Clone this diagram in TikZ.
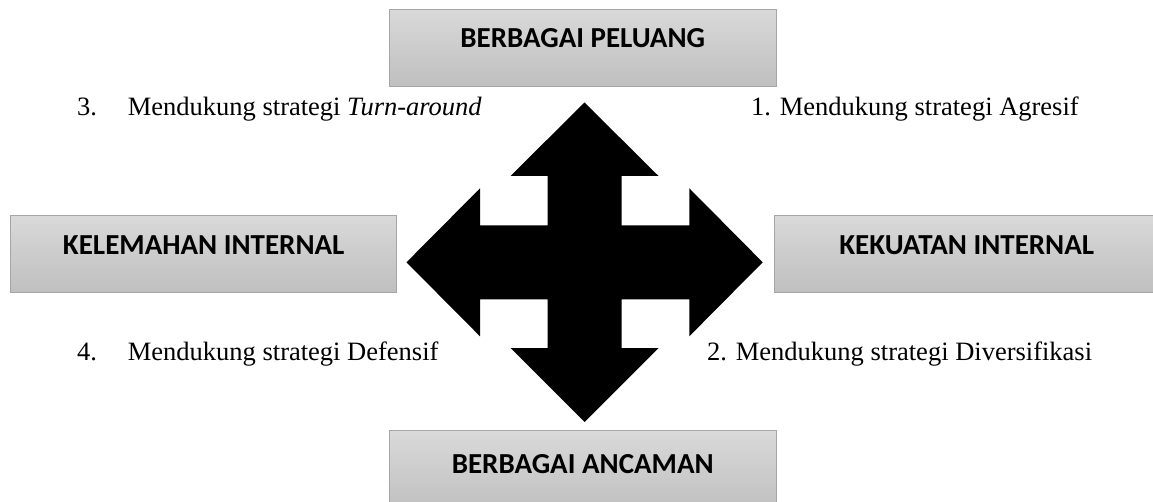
\documentclass[tikz,border=0pt]{standalone}
\usepackage{fontspec}
\setmainfont{Liberation Serif}
\newfontfamily\boxfont{Carlito}
\definecolor{boxtop}{HTML}{D9D9D9}
\definecolor{boxbot}{HTML}{BFBFBF}
\definecolor{boxline}{HTML}{A6A6A6}
\tikzset{
  quadbox/.style={draw=boxline, line width=0.9pt, top color=boxtop, bottom color=boxbot,
    inner sep=0pt, text height=38.4pt, text depth=38.6pt,
    font=\boxfont\bfseries\fontsize{29}{34}\selectfont},
  lbl/.style={anchor=base west, inner sep=0pt, font=\fontsize{26.5}{31}\selectfont},
  bigarrow/.style={fill=black, draw=none}
}
\begin{document}
\begin{tikzpicture}[x=1pt,y=-1pt]
\clip (0,0) rectangle (1153,502);
\fill[white] (0,0) rectangle (1153,502);
% boxes
\node[quadbox, minimum width=386.7pt] (peluang) at (582.7,48) {BERBAGAI PELUANG};
\node[quadbox, minimum width=386pt] (kelemahan) at (203.7,254.3) {KELEMAHAN INTERNAL};
\node[quadbox, minimum width=385.4pt] (kekuatan) at (966.7,254.3) {KEKUATAN INTERNAL};
\node[quadbox, minimum width=386.7pt, text height=43pt, text depth=40pt] (ancaman) at (582.7,472.3) {BERBAGAI ANCAMAN};
% four-way arrow
\fill[bigarrow]
  (584.5,102.5) -- (658.5,176) -- (621.5,176) -- (621.5,225.3) -- (689.3,225.3)
  -- (689.3,188.3) -- (762.7,262.3) -- (689.3,336.3) -- (689.3,299.3)
  -- (621.5,299.3) -- (621.5,348) -- (658.5,348) -- (584.5,422)
  -- (510.5,348) -- (547.5,348) -- (547.5,299.3) -- (480,299.3)
  -- (480,336.3) -- (406.5,262.3) -- (480,188.3) -- (480,225.3)
  -- (547.5,225.3) -- (547.5,176) -- (510.5,176) -- cycle;
% labels
\node[lbl] (s3) at (77,116) {\makebox[50.7pt][l]{3.}Mendukung strategi \textit{Turn-around}};
\node[lbl] (s1) at (751,116) {1. Mendukung strategi Agresif};
\node[lbl] (s4) at (77,360.7) {\makebox[50.7pt][l]{4.}Mendukung strategi Defensif};
\node[lbl] (s2) at (707,360.7) {2. Mendukung strategi Diversifikasi};
\end{tikzpicture}
\end{document}
